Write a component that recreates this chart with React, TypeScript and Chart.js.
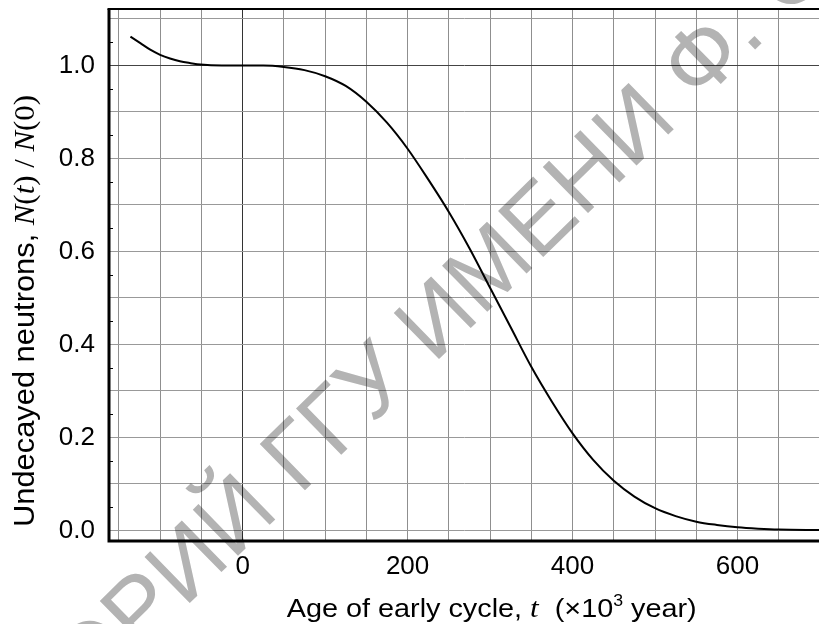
import React, { useEffect, useRef } from "react";
import { Chart, registerables } from "chart.js";

Chart.register(...registerables);

// ---- data ----
const ageKyr = [
  -136, -124, -112, -100, -88, -76, -63, -51, -25, 0, 25, 50, 75, 100, 125, 150, 175, 200,
  225, 250, 275, 300, 325, 350, 375, 400, 425, 450, 475, 500, 525, 550, 575, 600, 625, 650,
  700,
];
const undecayedFraction = [
  1.062, 1.048, 1.034, 1.023, 1.015, 1.009, 1.005, 1.002, 1.0, 1.0, 1.0, 0.997, 0.99, 0.977,
  0.956, 0.922, 0.877, 0.821, 0.755, 0.685, 0.607, 0.522, 0.437, 0.352, 0.277, 0.209, 0.152,
  0.107, 0.073, 0.048, 0.031, 0.019, 0.012, 0.007, 0.004, 0.002, 0.001,
];
const xTickLabels = [0, 200, 400, 600];
const yTickLabels = [0.0, 0.2, 0.4, 0.6, 0.8, 1.0];
const yMinorTicks = [0.05, 0.15, 0.25, 0.35, 0.45, 0.55, 0.65, 0.75, 0.85, 0.95, 1.05];
const xRange = [-162, 700];
const yRange = [-0.0226, 1.1215];
const watermarkText = "РЕПОЗИТОРИЙ ГГУ ИМЕНИ Ф. СКОРИНЫ";

const SANS = '"Liberation Sans", Arial, sans-serif';
const SERIF = '"Liberation Serif", "Times New Roman", serif';

type Part = { text: string; font: string; dy?: number };

const xTitleParts: Part[] = [
  { text: "Age of early cycle, ", font: `26px ${SANS}` },
  { text: "t", font: `italic 28px ${SERIF}` },
  { text: "  (×10", font: `26px ${SANS}` },
  { text: "3", font: `16px ${SANS}`, dy: -11 },
  { text: " year)", font: `26px ${SANS}` },
];
const yTitleParts: Part[] = [
  { text: "Undecayed neutrons, ", font: `29px ${SANS}` },
  { text: "N", font: `italic 29px ${SERIF}` },
  { text: "(", font: `29px ${SERIF}` },
  { text: "t", font: `italic 29px ${SERIF}` },
  { text: ")", font: `29px ${SERIF}` },
  { text: " / ", font: `29px ${SERIF}` },
  { text: "N", font: `italic 29px ${SERIF}` },
  { text: "(0)", font: `29px ${SERIF}` },
];

function drawParts(ctx: CanvasRenderingContext2D, parts: Part[], targetWidth: number) {
  let total = 0;
  for (const p of parts) {
    ctx.font = p.font;
    total += ctx.measureText(p.text).width;
  }
  const sx = targetWidth / total;
  ctx.save();
  ctx.scale(sx, 1);
  let x = 0;
  for (const p of parts) {
    ctx.font = p.font;
    ctx.fillText(p.text, x, p.dy || 0);
    x += ctx.measureText(p.text).width;
  }
  ctx.restore();
}

const decorPlugin = {
  id: "decor",
  afterDraw(chart: any) {
    const ctx: CanvasRenderingContext2D = chart.ctx;
    const a = chart.chartArea;
    const ys = chart.scales.y;
    ctx.save();
    // minor ticks on the left axis
    ctx.strokeStyle = "#000";
    ctx.lineWidth = 1;
    for (const v of yMinorTicks) {
      const y = Math.round(ys.getPixelForValue(v)) + 0.5;
      ctx.beginPath();
      ctx.moveTo(a.left, y);
      ctx.lineTo(a.left + 4, y);
      ctx.stroke();
    }
    // frame
    ctx.lineWidth = 3;
    ctx.beginPath();
    ctx.moveTo(a.left, a.top);
    ctx.lineTo(a.left, a.bottom);
    ctx.lineTo(a.right + 5, a.bottom);
    ctx.stroke();
    ctx.lineWidth = 2;
    ctx.beginPath();
    ctx.moveTo(a.left - 1.5, a.top);
    ctx.lineTo(a.right + 5, a.top);
    ctx.stroke();

    // axis titles
    ctx.fillStyle = "#000";
    ctx.textBaseline = "alphabetic";
    ctx.textAlign = "left";
    ctx.save();
    ctx.translate(286.7, 617.3);
    drawParts(ctx, xTitleParts, 410);
    ctx.restore();
    ctx.save();
    ctx.translate(34, 527);
    ctx.rotate(-Math.PI / 2);
    drawParts(ctx, yTitleParts, 432);
    ctx.restore();

    // watermark
    const fs = 94;
    ctx.save();
    ctx.globalCompositeOperation = "multiply";
    ctx.fillStyle = "#b3b3b3";
    ctx.font = `${fs}px ${SANS}`;
    const dotIdx = watermarkText.indexOf(".");
    const prefixW = ctx.measureText(watermarkText.slice(0, dotIdx)).width;
    ctx.translate(755, 43);
    ctx.rotate((-44.4 * Math.PI) / 180);
    ctx.fillText(watermarkText, -prefixW - 0.139 * fs, 0.05 * fs);
    ctx.restore();
    ctx.restore();
  },
};

export default function App() {
  const ref = useRef<HTMLCanvasElement | null>(null);
  useEffect(() => {
    if (!ref.current) return;
    const points = ageKyr.map((x, i) => ({ x, y: undecayedFraction[i] }));
    const chart = new Chart(ref.current, {
      type: "line",
      data: {
        datasets: [
          {
            data: points,
            borderColor: "#000",
            borderWidth: 2,
            pointRadius: 0,
            fill: false,
            cubicInterpolationMode: "monotone",
          },
        ],
      },
      options: {
        animation: false,
        responsive: true,
        maintainAspectRatio: false,
        layout: { padding: { top: 9, left: 0, right: 0, bottom: 0 } },
        plugins: { legend: { display: false }, tooltip: { enabled: false } },
        scales: {
          x: {
            type: "linear",
            min: xRange[0],
            max: xRange[1],
            afterFit: (s: any) => {
              s.height = 83;
              s.paddingLeft = 0;
              s.paddingRight = 0;
            },
            border: { display: false },
            grid: {
              drawTicks: false,
              lineWidth: 1,
              color: (c: any) => (c.tick && c.tick.value === 0 ? "#333" : "#8f8f8f"),
            },
            ticks: {
              stepSize: 50,
              includeBounds: false,
              autoSkip: false,
              maxRotation: 0,
              padding: 10,
              color: "#000",
              font: { family: SANS, size: 26 },
              callback: (v: any) => (xTickLabels.includes(Number(v)) ? String(v) : ""),
            },
          },
          y: {
            type: "linear",
            min: yRange[0],
            max: yRange[1],
            afterFit: (s: any) => {
              s.width = 109;
              s.paddingTop = 0;
              s.paddingBottom = 0;
            },
            border: { display: false },
            grid: {
              drawTicks: false,
              lineWidth: 1,
              color: (c: any) =>
                c.tick && Math.abs(c.tick.value - 1) < 1e-6 ? "#444" : "#999",
            },
            ticks: {
              stepSize: 0.1,
              includeBounds: false,
              autoSkip: false,
              padding: 14,
              color: "#000",
              font: { family: SANS, size: 26 },
              callback: (v: any) => {
                const n = Number(v);
                return yTickLabels.some((t) => Math.abs(t - n) < 1e-6) ? n.toFixed(1) : "";
              },
            },
          },
        },
      },
      plugins: [decorPlugin],
    } as any);
    return () => chart.destroy();
  }, []);

  return (
    <div
      style={{
        position: "fixed",
        left: 0,
        top: 0,
        width: 819,
        height: 624,
        overflow: "hidden",
        background: "#fff",
      }}
    >
      <div style={{ position: "relative", width: 820, height: 624 }}>
        <canvas ref={ref} />
      </div>
    </div>
  );
}
